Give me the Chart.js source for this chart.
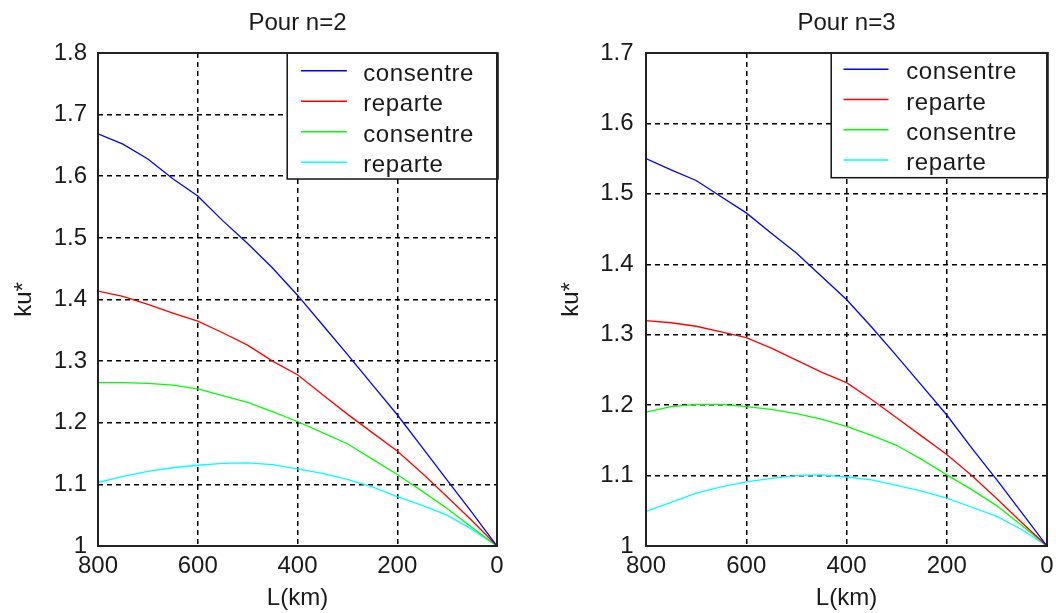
<!DOCTYPE html>
<html><head><meta charset="utf-8">
<script src="https://cdn.jsdelivr.net/npm/chart.js@4/dist/chart.umd.min.js"></script>
<style>
html,body{margin:0;padding:0;background:#fff;}
#wrap{position:relative;width:1056px;height:613px;overflow:hidden;background:#fff;}
canvas{position:absolute;top:0;}
#c1{left:0;} #c2{left:528px;}
</style></head><body>
<div id="wrap"><canvas id="c1" width="528" height="613"></canvas><canvas id="c2" width="528" height="613"></canvas></div>
<script>
// ---- data ----
const distances = [800,750,700,650,600,550,500,450,400,350,300,250,200,150,100,50,0];
const xTicks = [800,600,400,200,0];
const yTicksN2 = [1,1.1,1.2,1.3,1.4,1.5,1.6,1.7,1.8];
const yTicksN3 = [1,1.1,1.2,1.3,1.4,1.5,1.6,1.7];
const seriesLabels = ['consentre','reparte','consentre','reparte'];
const seriesColors = ['#0000ff','#ff0000','#00ff00','#00ffff'];
const titles = ['Pour n=2','Pour n=3'];
const xLabel = 'L(km)';
const yLabel = 'ku*';

const n2Consentre  = [1.669,1.652,1.628,1.596,1.568,1.528,1.491,1.451,1.407,1.359,1.311,1.262,1.213,1.160,1.107,1.054,1.000];
const n2Reparte    = [1.4135,1.405,1.392,1.378,1.365,1.346,1.326,1.300,1.278,1.246,1.214,1.184,1.154,1.118,1.080,1.041,1.000];
const n2Consentre2 = [1.265,1.265,1.264,1.261,1.255,1.244,1.233,1.218,1.202,1.184,1.166,1.141,1.116,1.089,1.061,1.030,1.000];
const n2Reparte2   = [1.103,1.113,1.121,1.127,1.131,1.134,1.135,1.132,1.125,1.118,1.108,1.096,1.080,1.066,1.050,1.027,1.000];

const n3Consentre  = [1.550,1.534,1.519,1.496,1.473,1.444,1.416,1.383,1.350,1.311,1.270,1.228,1.186,1.139,1.094,1.047,1.000];
const n3Reparte    = [1.320,1.317,1.312,1.304,1.296,1.281,1.264,1.247,1.232,1.208,1.182,1.156,1.130,1.100,1.067,1.033,1.000];
const n3Consentre2 = [1.190,1.198,1.201,1.201,1.198,1.194,1.188,1.180,1.170,1.157,1.143,1.123,1.101,1.080,1.057,1.029,1.000];
const n3Reparte2   = [1.049,1.062,1.075,1.084,1.091,1.096,1.100,1.101,1.098,1.094,1.086,1.078,1.068,1.055,1.042,1.023,1.000];

// ---- styling ----
const FONT = '"Liberation Sans", Arial, Helvetica, sans-serif';
const TEXT = '#1a1a1a';
Chart.defaults.font.family = FONT;
Chart.defaults.color = TEXT;

const matlabFrame = {
  id: 'matlabFrame',
  afterDatasetsDraw(chart, args, o) {
    const ctx = chart.ctx, a = chart.chartArea;
    ctx.save();
    ctx.font = '24px ' + FONT;
    if ('letterSpacing' in ctx) ctx.letterSpacing = '0.6px';
    const ds = chart.data.datasets;
    let maxW = 0;
    ds.forEach(d => { maxW = Math.max(maxW, ctx.measureText(d.label).width); });
    const bw = o.textOffset + maxW + o.rightPad;
    const bh = o.boxH;
    const bx = a.right - bw, by = a.top + o.topShift;
    ctx.fillStyle = '#fff';
    ctx.fillRect(bx, by, bw, bh);
    ds.forEach((d, i) => {
      const y = by + o.firstRow + i * o.rowGap;
      ctx.strokeStyle = d.borderColor;
      ctx.lineWidth = 1.5;
      ctx.beginPath();
      ctx.moveTo(bx + o.lineStart, y);
      ctx.lineTo(bx + o.lineStart + o.lineLen, y);
      ctx.stroke();
      ctx.fillStyle = TEXT;
      ctx.textBaseline = 'alphabetic';
      ctx.textAlign = 'left';
      ctx.fillText(d.label, bx + o.textOffset, y + 10);
    });
    ctx.strokeStyle = '#111';
    ctx.lineWidth = 1.5;
    ctx.strokeRect(bx, by, bw + 1, bh);
    // axes box
    ctx.strokeStyle = '#222';
    ctx.lineWidth = 2;
    ctx.strokeRect(a.left, a.top, a.right - a.left, a.bottom - a.top);
    ctx.restore();
  }
};

function buildChart(id, cfg) {
  return new Chart(document.getElementById(id), {
    type: 'line',
    data: {
      datasets: cfg.series.map((vals, i) => ({
        label: seriesLabels[i],
        data: distances.map((d, j) => ({x: d, y: vals[j]})),
        borderColor: seriesColors[i],
        backgroundColor: seriesColors[i],
        borderWidth: 1.3,
        pointRadius: 0,
        tension: 0,
        fill: false
      }))
    },
    options: {
      responsive: false,
      animation: false,
      devicePixelRatio: 1,
      events: [],
      layout: { padding: { left: 0, right: cfg.padRight, top: 0, bottom: 0 } },
      plugins: {
        legend: { display: false },
        tooltip: { enabled: false },
        title: {
          display: true, text: cfg.title, fullSize: false, color: TEXT,
          font: { size: 24, weight: 'normal' }, padding: { top: 9, bottom: 15.2 }
        },
        matlabFrame: cfg.legend
      },
      scales: {
        x: {
          type: 'linear', reverse: true, min: 0, max: 800,
          afterBuildTicks: s => { s.ticks = xTicks.map(v => ({ value: v })); },
          afterFit: s => { s.height = 67; s.paddingLeft = 0; s.paddingRight = 0; },
          ticks: { font: { size: 24 }, color: TEXT, padding: 6, maxRotation: 0, autoSkip: false,
                   callback: v => String(v) },
          grid: { color: '#000', lineWidth: 1.5, drawTicks: false },
          border: { display: false, dash: [5, 4] },
          title: { display: true, text: xLabel, color: TEXT, font: { size: 24 }, padding: { top: 0, bottom: 0 } }
        },
        y: {
          type: 'linear', min: 1, max: cfg.yMax,
          afterBuildTicks: s => { s.ticks = cfg.yTicks.map(v => ({ value: v })); },
          afterFit: s => { s.width = cfg.yWidth; s.paddingTop = 0; s.paddingBottom = 0; },
          ticks: { font: { size: 24 }, color: TEXT, padding: cfg.yTickPad, autoSkip: false,
                   callback: v => String(Math.round(v * 10) / 10) },
          grid: { color: '#000', lineWidth: 1.5, drawTicks: false },
          border: { display: false, dash: [5, 4] },
          title: { display: true, text: yLabel, color: TEXT, font: { size: 24 }, padding: { top: cfg.yTitlePad, bottom: 0 } }
        }
      }
    },
    plugins: [matlabFrame]
  });
}

buildChart('c1', {
  title: titles[0],
  series: [n2Consentre, n2Reparte, n2Consentre2, n2Reparte2],
  yTicks: yTicksN2, yMax: 1.8,
  yWidth: 98, padRight: 31, yTickPad: 11, yTitlePad: 10.3,
  legend: { textOffset: 76, rightPad: 23, boxH: 126, topShift: 0, firstRow: 17.7, rowGap: 30.5, lineStart: 13.7, lineLen: 46 }
});
buildChart('c2', {
  title: titles[1],
  series: [n3Consentre, n3Reparte, n3Consentre2, n3Reparte2],
  yTicks: yTicksN3, yMax: 1.7,
  yWidth: 118, padRight: 9, yTickPad: 12.5, yTitlePad: 29.3,
  legend: { textOffset: 75, rightPad: 30, boxH: 125, topShift: -0.3, firstRow: 16.5, rowGap: 30.3, lineStart: 12.3, lineLen: 45 }
});
</script>
</body></html>
